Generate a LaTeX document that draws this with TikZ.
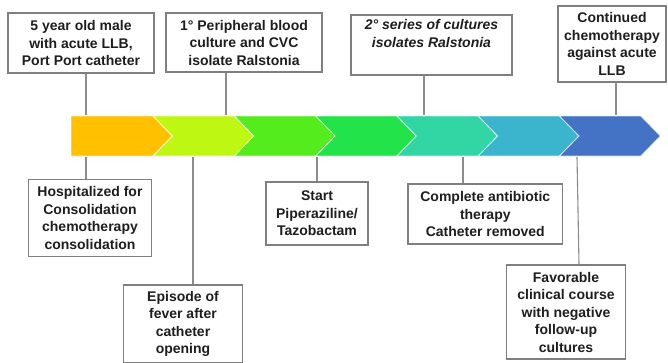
\documentclass[tikz,border=0pt]{standalone}
\usepackage{fontspec}
\setmainfont{Liberation Sans}
\definecolor{c1}{HTML}{FFC000}
\definecolor{c2}{HTML}{BEF712}
\definecolor{c3}{HTML}{55EC1D}
\definecolor{c4}{HTML}{22E34A}
\definecolor{c5}{HTML}{32D6A4}
\definecolor{c6}{HTML}{3BB4CD}
\definecolor{c7}{HTML}{4472C4}
\definecolor{boxgray}{HTML}{7F7F7F}
\definecolor{txt}{HTML}{1E1E1E}
\tikzset{
  evbox/.style={draw=boxgray, line width=1.1pt, fill=white, inner sep=0pt, align=center,
    text=txt, font=\bfseries\fontsize{14}{17.5}\selectfont},
  conn/.style={draw=boxgray!90, line width=1.1pt},
  seg/.style={draw=white, draw opacity=0.7, line width=0.8pt}
}
\begin{document}
\begin{tikzpicture}[x=1pt,y=-1pt]
\useasboundingbox (0,0) rectangle (668,362);
% chevron bar
\def\chevd{19.5}
\path[seg, fill=c1] (71,116) -- (153,116) -- (153+\chevd,136) -- (153,156) -- (71,156) -- cycle;
\foreach \i/\c in {1/c2,2/c3,3/c4,4/c5,5/c6,6/c7}{
  \pgfmathsetmacro{\xa}{153+81.3*(\i-1)}
  \pgfmathsetmacro{\xb}{153+81.3*\i}
  \path[seg, fill=\c] (\xa,116) -- (\xb,116) -- (\xb+\chevd,136) -- (\xb,156) -- (\xa,156) -- (\xa+\chevd,136) -- cycle;
}
% anchor points on bar
\coordinate (t1) at (86,115);
\coordinate (t2) at (226,115);
\coordinate (t3) at (424,115);
\coordinate (t4) at (616,115);
\coordinate (u1) at (86,157);
\coordinate (u2) at (193,157);
\coordinate (u3) at (317,157);
\coordinate (u4) at (463,157);
\coordinate (u5) at (577,157);
% top boxes
\node[evbox, minimum width=146, minimum height=60] (b1) at (81,43) {5 year old male\\with acute LLB,\\Port Port catheter};
\node[evbox, minimum width=156, minimum height=59] (b2) at (244,42.5) {1° Peripheral blood\\culture and CVC\\isolate Ralstonia};
\node[evbox, minimum width=161, minimum height=60, font=\bfseries\itshape\fontsize{14}{17.5}\selectfont] (b3) at (431.5,45) {2° series of cultures\\isolates Ralstonia\\\strut};
\node[evbox, minimum width=108, minimum height=76] (b4) at (612,44) {Continued\\chemotherapy\\against acute\\LLB};
% bottom boxes
\node[evbox, minimum width=123, minimum height=77] (h) at (90,218) {Hospitalized for\\Consolidation\\chemotherapy\\consolidation};
\node[evbox, minimum width=118.5, minimum height=78] (e) at (183,324) {Episode of\\fever after\\catheter\\opening};
\node[evbox, minimum width=102, minimum height=63] (s) at (317,213.5) {Start\\Piperaziline/\\Tazobactam};
\node[evbox, minimum width=154.7, minimum height=60] (c) at (485.3,214) {Complete antibiotic\\therapy\\Catheter removed};
\node[evbox, minimum width=118.6, minimum height=94] (f) at (566,312) {Favorable\\clinical course\\with negative\\follow-up\\cultures};
% connectors
\draw[conn] (b1.south -| t1) -- (t1);
\draw[conn] (b2.south -| t2) -- (t2);
\draw[conn] (b3.south -| t3) -- (t3);
\draw[conn] (b4.south -| t4) -- (t4);
\draw[conn] (u1) -- (u1 |- h.north);
\draw[conn] (u2) -- (u2 |- e.north);
\draw[conn] (u3) -- (u3 |- s.north);
\draw[conn] (u4) -- (u4 |- c.north);
\draw[conn] (u5) -- ([xshift=2pt]u5 |- f.north);
\end{tikzpicture}
\end{document}
